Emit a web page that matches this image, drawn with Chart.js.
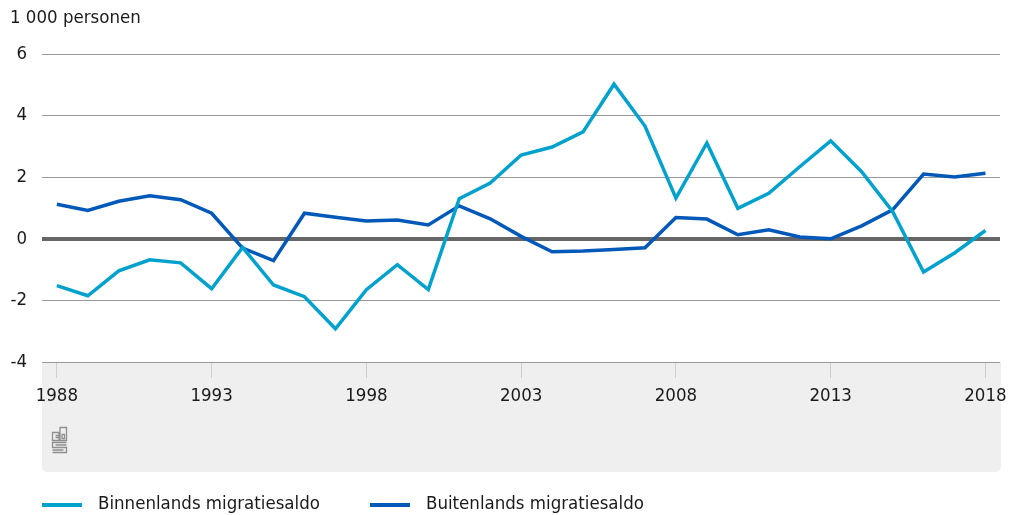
<!DOCTYPE html>
<html>
<head>
<meta charset="utf-8">
<script src="https://cdn.jsdelivr.net/npm/chart.js@4/dist/chart.umd.min.js"></script>
<style>
  html, body { margin: 0; padding: 0; background: #fff; }
  #wrap { width: 1010px; height: 515px; }
</style>
</head>
<body>
<div id="wrap"><canvas id="myChart" width="1010" height="515"></canvas></div>
<script>
const years = [1988, 1989, 1990, 1991, 1992, 1993, 1994, 1995, 1996, 1997, 1998, 1999, 2000, 2001, 2002, 2003,
  2004, 2005, 2006, 2007, 2008, 2009, 2010, 2011, 2012, 2013, 2014, 2015, 2016, 2017, 2018];
const binnenlands = [-1.52, -1.85, -1.04, -0.68, -0.78, -1.62, -0.28, -1.5, -1.88, -2.92, -1.65, -0.84, -1.65, 1.3,
  1.81, 2.72, 2.98, 3.47, 5.02, 3.66, 1.32, 3.11, 0.99, 1.48, 2.34, 3.18, 2.18, 0.89, -1.08, -0.46, 0.27];
const buitenlands = [1.12, 0.92, 1.22, 1.4, 1.27, 0.83, -0.3, -0.71, 0.83, 0.7, 0.58, 0.61, 0.45, 1.07,
  0.65, 0.08, -0.42, -0.4, -0.35, -0.29, 0.69, 0.64, 0.13, 0.29, 0.06, 0.0, 0.42, 0.94, 2.1, 2.01, 2.13];
const xTicks = [1988, 1993, 1998, 2003, 2008, 2013, 2018];
const yTicks = [-4, -2, 0, 2, 4, 6];
const seriesNames = ['Binnenlands migratiesaldo', 'Buitenlands migratiesaldo'];
const seriesColors = ['#00a1cd', '#0058b8'];
const unitLabel = '1 000 personen';

const fontFamily = '"Liberation Sans Narrow", "DejaVu Sans Condensed", "Noto Sans", sans-serif';
const fontSize = 18.5;

function toPoints(values) {
  return values.map((v, i) => ({ x: years[i], y: v }));
}

// grey footer box, title, logo and legend
const decorations = {
  id: 'decorations',
  beforeDraw(chart) {
    const ctx = chart.ctx;
    const area = chart.chartArea;
    ctx.save();
    ctx.fillStyle = '#efefef';
    ctx.beginPath();
    ctx.roundRect(area.left, area.bottom, area.right - area.left + 1, 110, [0, 0, 5, 5]);
    ctx.fill();
    ctx.restore();
  },
  afterDraw(chart) {
    const ctx = chart.ctx;
    ctx.save();
    ctx.fillStyle = '#1a1a1a';
    ctx.font = fontSize + 'px ' + fontFamily;
    ctx.textBaseline = 'middle';
    ctx.textAlign = 'left';
    ctx.fillText(unitLabel, 10, 18);

    // legend
    const legendX = [42, 370];
    chart.data.datasets.forEach((ds, i) => {
      ctx.strokeStyle = ds.borderColor;
      ctx.lineWidth = 4;
      ctx.beginPath();
      ctx.moveTo(legendX[i], 505);
      ctx.lineTo(legendX[i] + 40, 505);
      ctx.stroke();
      ctx.fillStyle = '#1a1a1a';
      ctx.fillText(ds.label, legendX[i] + 56, 504);
    });

    // cbs logo (rough)
    ctx.strokeStyle = '#8f8f8f';
    ctx.lineWidth = 1.3;
    const lx = 52.5, ly = 427.5;
    ctx.beginPath();
    ctx.rect(lx, ly + 5, 6.5, 8);
    ctx.rect(lx + 7.5, ly, 6.5, 13);
    ctx.rect(lx + 9.5, ly + 7, 2.5, 4);
    ctx.moveTo(lx + 3, ly + 8); ctx.lineTo(lx + 6.5, ly + 8);
    ctx.moveTo(lx + 3, ly + 10); ctx.lineTo(lx + 6.5, ly + 10);
    ctx.moveTo(lx + 14, ly + 15); ctx.lineTo(lx, ly + 15); ctx.lineTo(lx, ly + 20);
    ctx.lineTo(lx + 14, ly + 20); ctx.lineTo(lx + 14, ly + 25); ctx.lineTo(lx, ly + 25);
    ctx.moveTo(lx + 14, ly + 17.5); ctx.lineTo(lx + 3, ly + 17.5);
    ctx.moveTo(lx, ly + 22.5); ctx.lineTo(lx + 11, ly + 22.5);
    ctx.stroke();
    ctx.restore();
  }
};

new Chart(document.getElementById('myChart'), {
  type: 'line',
  data: {
    datasets: [{
      label: seriesNames[0],
      data: toPoints(binnenlands),
      borderColor: seriesColors[0],
      backgroundColor: seriesColors[0],
      borderWidth: 3.5,
      pointRadius: 0,
      tension: 0,
      fill: false
    }, {
      label: seriesNames[1],
      data: toPoints(buitenlands),
      borderColor: seriesColors[1],
      backgroundColor: seriesColors[1],
      borderWidth: 3.5,
      pointRadius: 0,
      tension: 0,
      fill: false
    }]
  },
  options: {
    responsive: false,
    animation: false,
    layout: { padding: { left: 0, right: 10, top: 54, bottom: 43 } },
    plugins: {
      legend: { display: false },
      title: { display: false },
      tooltip: { enabled: false }
    },
    scales: {
      x: {
        type: 'linear',
        min: 1987.52,
        max: 2018.47,
        border: { display: false },
        afterBuildTicks(scale) {
          scale.ticks = xTicks.map(v => ({ value: v }));
        },
        afterFit(scale) {
          scale.height = 110;
          scale.paddingLeft = 0;
          scale.paddingRight = 0;
        },
        grid: {
          drawOnChartArea: false,
          drawTicks: true,
          tickLength: 16,
          tickColor: '#cfcfcf',
          tickWidth: 1
        },
        ticks: {
          autoSkip: false,
          maxRotation: 0,
          padding: 7,
          color: '#1a1a1a',
          font: { family: fontFamily, size: fontSize },
          callback: (v) => String(v)
        }
      },
      y: {
        min: -4,
        max: 6,
        border: { display: false },
        afterBuildTicks(scale) {
          scale.ticks = yTicks.map(v => ({ value: v }));
        },
        afterFit(scale) {
          scale.width = 42;
        },
        grid: {
          drawTicks: false,
          color: (c) => c.tick && c.tick.value === 0 ? '#666666' : '#9a9a9a',
          lineWidth: (c) => c.tick && c.tick.value === 0 ? 4 : 1
        },
        ticks: {
          padding: 15,
          color: '#1a1a1a',
          font: { family: fontFamily, size: fontSize }
        }
      }
    }
  },
  plugins: [decorations]
});
</script>
</body>
</html>
